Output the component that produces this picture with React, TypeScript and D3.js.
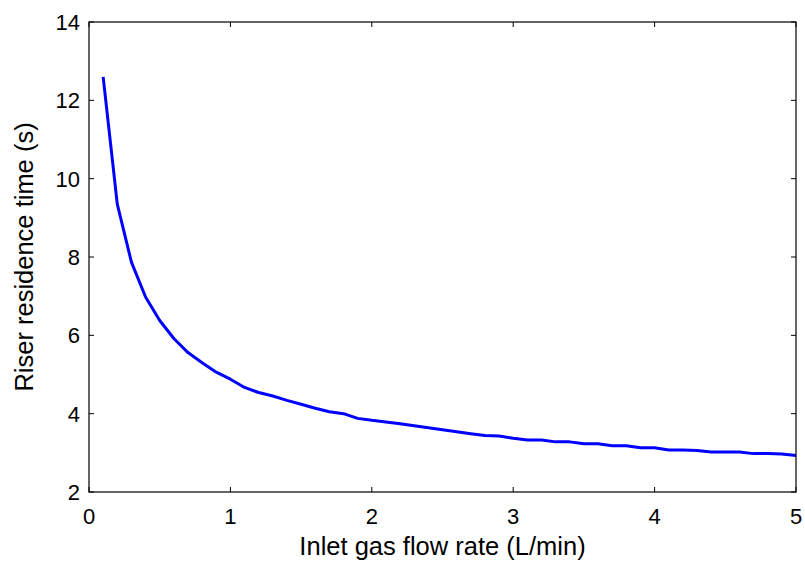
import React from "react";
import * as d3 from "d3";

const flowRates = [
  0.1, 0.2, 0.3, 0.4, 0.5, 0.6, 0.7, 0.8, 0.9, 1.0,
  1.1, 1.2, 1.3, 1.4, 1.5, 1.6, 1.7, 1.8, 1.9, 2.0,
  2.1, 2.2, 2.3, 2.4, 2.5, 2.6, 2.7, 2.8, 2.9, 3.0,
  3.1, 3.2, 3.3, 3.4, 3.5, 3.6, 3.7, 3.8, 3.9, 4.0,
  4.1, 4.2, 4.3, 4.4, 4.5, 4.6, 4.7, 4.8, 4.9, 5.0,
];
const residenceTimes = [
  12.6, 9.35, 7.87, 6.98, 6.38, 5.92, 5.56, 5.3, 5.06, 4.88,
  4.67, 4.54, 4.45, 4.34, 4.24, 4.14, 4.05, 4.0, 3.88, 3.83,
  3.79, 3.74, 3.69, 3.64, 3.59, 3.54, 3.49, 3.44, 3.43, 3.37,
  3.33, 3.33, 3.28, 3.28, 3.23, 3.23, 3.18, 3.18, 3.13, 3.13,
  3.07, 3.07, 3.06, 3.02, 3.02, 3.02, 2.98, 2.98, 2.97, 2.93,
];
const xTicks = [0, 1, 2, 3, 4, 5];
const yTicks = [2, 4, 6, 8, 10, 12, 14];
const xLabel = "Inlet gas flow rate (L/min)";
const yLabel = "Riser residence time (s)";

const W = 805;
const H = 563;
const left = 89;
const right = 796;
const top = 22;
const bottom = 492;
const tickLen = 5;
const font = "'Liberation Sans', Arial, sans-serif";

export default function App() {
  const x = d3.scaleLinear().domain([0, 5]).range([left, right]);
  const y = d3.scaleLinear().domain([2, 14]).range([bottom, top]);
  const line = d3
    .line<number>()
    .x((_, i) => x(flowRates[i]))
    .y((d) => y(d));
  const path = line(residenceTimes) || "";

  return (
    <svg
      width={W}
      height={H}
      style={{ position: "absolute", left: 0, top: 0, background: "#fff" }}
      fontFamily={font}
    >
      <rect x={0} y={0} width={W} height={H} fill="#fff" />
      <path d={path} fill="none" stroke="#0000ff" strokeWidth={3} strokeLinejoin="round" />
      <rect
        x={left}
        y={top}
        width={right - left}
        height={bottom - top}
        fill="none"
        stroke="#000"
        strokeWidth={1.2}
      />
      {xTicks.map((t) => (
        <g key={"x" + t}>
          <line x1={x(t)} x2={x(t)} y1={bottom} y2={bottom - tickLen} stroke="#000" />
          <line x1={x(t)} x2={x(t)} y1={top} y2={top + tickLen} stroke="#000" />
          <text x={x(t)} y={524} fontSize={22} textAnchor="middle" fill="#000">
            {t}
          </text>
        </g>
      ))}
      {yTicks.map((t) => (
        <g key={"y" + t}>
          <line x1={left} x2={left + tickLen} y1={y(t)} y2={y(t)} stroke="#000" />
          <line x1={right} x2={right - tickLen} y1={y(t)} y2={y(t)} stroke="#000" />
          <text x={80} y={y(t) + 8} fontSize={22} textAnchor="end" fill="#000">
            {t}
          </text>
        </g>
      ))}
      <text
        x={(left + right) / 2}
        y={555}
        fontSize={25.5}
        textAnchor="middle"
        fill="#000"
      >
        {xLabel}
      </text>
      <text
        transform={`translate(33, ${(top + bottom) / 2}) rotate(-90)`}
        fontSize={25.5}
        textAnchor="middle"
        fill="#000"
      >
        {yLabel}
      </text>
    </svg>
  );
}
